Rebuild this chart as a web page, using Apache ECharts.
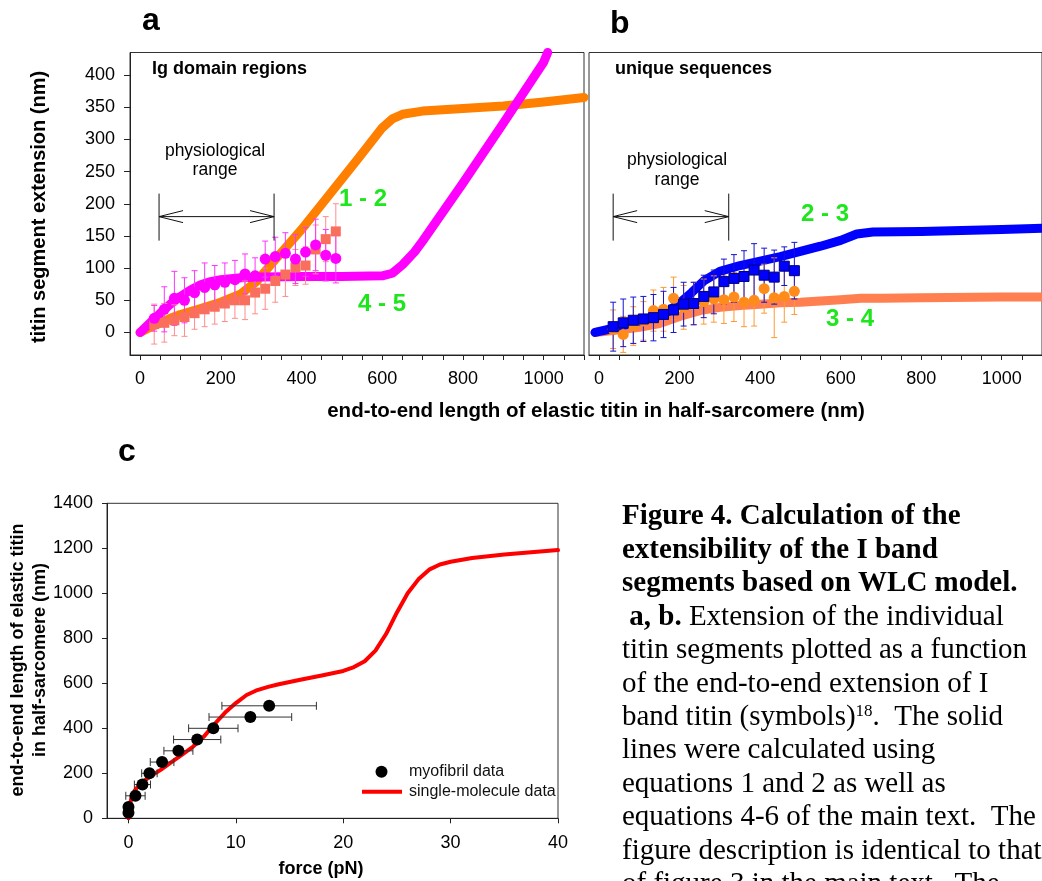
<!DOCTYPE html>
<html><head><meta charset="utf-8">
<script src="https://cdn.jsdelivr.net/npm/echarts@6/dist/echarts.min.js"></script>
<style>html,body{margin:0;padding:0;background:#fff}#c{width:1042px;height:881px}</style>
</head><body><div id="c"></div>
<script>
// ---------- data ----------
// measured points (panels a and b share the same end-to-end lengths, nm)
const measX = [35, 60, 85, 110, 135, 160, 185, 210, 235, 260, 285, 310, 335, 360, 385, 410, 435, 460, 485];
// panel a: Ig domain regions
const ig45Y   = [22, 36, 53, 50, 62, 70, 74, 78, 82, 91, 88, 114, 118, 123, 114, 125, 136, 120, 115];
const ig45Err = [20, 35, 42, 35, 34, 38, 30, 30, 30, 31, 28, 28, 30, 32, 38, 38, 40, 40, 38];
const ig12Y   = [13, 15, 19, 24, 30, 36, 40, 45, 50, 50, 62, 68, 80, 90, 101, 104, 129, 145, 157];
const ig12Err = [31, 30, 24, 30, 25, 27, 27, 28, 28, 30, 33, 32, 33, 34, 28, 29, 38, 35, 43];
// panel a model curves
const curve12X = [0, 25, 50, 75, 100, 150, 200, 250, 290, 300, 350, 400, 460, 540, 600, 625, 650, 700, 800, 900, 1000, 1100];
const curve12Y = [0, 8, 15, 22, 28, 37, 47, 60, 80, 88, 124, 160, 207, 270, 318, 332, 339, 344, 348, 352, 358, 365];
const curve45X = [0, 25, 50, 75, 100, 125, 150, 175, 200, 250, 300, 400, 500, 600, 625, 650, 680, 700, 800, 900, 1000, 1010];
const curve45Y = [0, 15, 30, 44, 56, 66, 74, 79, 82, 85, 86, 87, 87, 88, 92, 105, 125, 142, 232, 325, 420, 435];
// panel b: unique sequences
const u23Y   = [9, 15, 19, 21, 23, 28, 35, 44, 45, 56, 63, 79, 84, 87, 97, 89, 86, 103, 96];
const u23Err = [38, 37, 36, 35, 36, 36, 35, 34, 33, 33, 34, 35, 37, 40, 41, 42, 42, 30, 44];
const u34Y   = [5, -3, 10, 18, 34, 36, 53, 39, 45, 48, 52, 51, 55, 47, 50, 68, 54, 56, 64];
const u34Err = [30, 28, 30, 30, 32, 34, 33, 34, 33, 35, 36, 37, 38, 38, 40, 38, 62, 40, 36];
const curve23X = [-10, 25, 50, 100, 140, 170, 200, 230, 260, 300, 350, 400, 450, 500, 550, 600, 640, 680, 800, 1000, 1100];
const curve23Y = [0, 5, 9, 18, 24, 32, 46, 62, 80, 95, 104, 111, 118, 126, 134, 143, 153, 156, 157, 160, 162];
const curve34X = [-10, 50, 100, 150, 200, 250, 300, 350, 400, 450, 500, 550, 600, 650, 700, 800, 1000, 1100];
const curve34Y = [0, 4, 8, 14, 25, 34, 39, 42, 44, 46, 47, 49, 51, 53, 53, 54, 55, 55];
// panel c
const myoForce = [0, 0, 0.65, 1.3, 1.95, 3.13, 4.65, 6.4, 7.9, 11.35, 13.1];
const myoLen   = [25, 50, 100, 150, 200, 250, 300, 350, 400, 450, 500];
const myoErr   = [0.1, 0.15, 0.9, 0.75, 0.72, 1.1, 1.35, 2.2, 2.3, 3.85, 4.4];
const smForce = [0, 0.05, 0.15, 0.3, 0.6, 1, 1.5, 2, 3, 4, 5, 6, 7, 8, 9, 10, 11, 12, 13, 14, 16, 18, 20, 21, 22, 23, 24, 25, 26, 27, 28, 29, 30, 32, 35, 40];
const smLen   = [0, 30, 65, 95, 125, 148, 168, 185, 215, 250, 283, 318, 362, 418, 470, 512, 548, 570, 584, 596, 616, 635, 655, 672, 698, 745, 820, 915, 1000, 1062, 1105, 1128, 1140, 1157, 1172, 1192];
// tick values
const abXTicks = [0,50,100,150,200,250,300,350,400,450,500,550,600,650,700,750,800,850,900,950,1000,1050,1100];
const abXLabels = [0, 200, 400, 600, 800, 1000];
const aYTicks = [0, 50, 100, 150, 200, 250, 300, 350, 400];
const cXTicks = [0, 10, 20, 30, 40];
// annotation: physiological range (nm) per panel
const physRangeA = [47, 332];
const physRangeB = [35, 322];

// ---------- helpers ----------
const SANS = "'Liberation Sans', Arial, sans-serif";
const SERIF = "'Liberation Serif', 'Times New Roman', serif";
const AX = '#222';
const plain = function (v) { return String(v); };

function xAxis(gi, min, max, ticks, labels, margin) {
  return {type: 'value', gridIndex: gi, min: min, max: max,
    axisLine: {show: true, onZero: false, lineStyle: {color: AX, width: 1}},
    axisTick: {show: true, inside: false, length: 5, customValues: ticks, lineStyle: {color: AX}},
    axisLabel: {customValues: labels, fontSize: 18, fontFamily: SANS, color: '#000', margin: margin, formatter: plain},
    splitLine: {show: false}};
}
function yAxis(gi, min, max, ticks, opts) {
  const o = {type: 'value', gridIndex: gi, min: min, max: max,
    axisLine: {show: true, onZero: false, lineStyle: {color: AX, width: 1}},
    axisTick: {show: true, inside: false, length: 6, lineStyle: {color: AX}},
    axisLabel: {fontSize: 18, fontFamily: SANS, color: '#000', margin: 15, formatter: plain},
    splitLine: {show: false}};
  if (ticks) { o.axisTick.customValues = ticks; o.axisLabel.customValues = ticks; }
  return Object.assign(o, opts || {});
}
function zip(xs, ys) { return xs.map((x, i) => [x, ys[i]]); }
function curve(ai, xs, ys, color, w) {
  return {type: 'line', xAxisIndex: ai, yAxisIndex: ai, data: zip(xs, ys), showSymbol: false, symbol: 'none',
    lineStyle: {color: color, width: w, cap: 'round', join: 'round'}, z: 2, silent: true, clip: true};
}
function vErr(ai, xs, ys, es, color) {
  return {type: 'custom', xAxisIndex: ai, yAxisIndex: ai, z: 3, silent: true, clip: true,
    data: xs.map((x, i) => [x, ys[i], es[i]]),
    renderItem: function (p, api) {
      const x = api.value(0), y = api.value(1), e = api.value(2);
      const t = api.coord([x, y + e]), b = api.coord([x, y - e]);
      const w = 3, st = {stroke: color, lineWidth: 1};
      return {type: 'group', children: [
        {type: 'line', shape: {x1: t[0], y1: t[1], x2: b[0], y2: b[1]}, style: st},
        {type: 'line', shape: {x1: t[0] - w, y1: t[1], x2: t[0] + w, y2: t[1]}, style: st},
        {type: 'line', shape: {x1: b[0] - w, y1: b[1], x2: b[0] + w, y2: b[1]}, style: st}]};
    }};
}
function hErr(ai, xs, ys, es, color) {
  return {type: 'custom', xAxisIndex: ai, yAxisIndex: ai, z: 3, silent: true, clip: false,
    data: xs.map((x, i) => [x, ys[i], es[i]]),
    renderItem: function (p, api) {
      const x = api.value(0), y = api.value(1), e = api.value(2);
      const l = api.coord([x - e, y]), r = api.coord([x + e, y]);
      const h = 4, st = {stroke: color, lineWidth: 1};
      return {type: 'group', children: [
        {type: 'line', shape: {x1: l[0], y1: l[1], x2: r[0], y2: r[1]}, style: st},
        {type: 'line', shape: {x1: l[0], y1: l[1] - h, x2: l[0], y2: l[1] + h}, style: st},
        {type: 'line', shape: {x1: r[0], y1: r[1] - h, x2: r[0], y2: r[1] + h}, style: st}]};
    }};
}
function pts(ai, xs, ys, symbol, size, color, border) {
  return {type: 'scatter', xAxisIndex: ai, yAxisIndex: ai, data: zip(xs, ys), symbol: symbol, symbolSize: size,
    itemStyle: {color: color, borderColor: border || color, borderWidth: border ? 1 : 0, opacity: 1}, z: 4, silent: true};
}

const chart = echarts.init(document.getElementById('c'), null, {renderer: 'canvas'});
const gridStyle = {show: true, borderColor: '#333', borderWidth: 1, backgroundColor: 'transparent', containLabel: false};
chart.setOption({
  animation: false,
  backgroundColor: '#fff',
  grid: [
    Object.assign({left: 130, top: 52.5, width: 454, height: 302.5}, gridStyle),
    Object.assign({left: 589, top: 52.5, width: 455, height: 302.5}, gridStyle),
    Object.assign({left: 107, top: 503.3, width: 451, height: 315}, gridStyle)
  ],
  xAxis: [
    xAxis(0, -25, 1100, abXTicks, abXLabels, 15.5),
    xAxis(1, -25, 1100, abXTicks, abXLabels, 15.5),
    xAxis(2, -2, 40, cXTicks, cXTicks, 16)
  ],
  yAxis: [
    yAxis(0, -35, 435, aYTicks),
    yAxis(1, -35, 435, null, {axisLine: {show: false}, axisTick: {show: false}, axisLabel: {show: false}}),
    yAxis(2, 0, 1400, null, {interval: 200, axisTick: {show: true, length: 5, lineStyle: {color: AX}},
      axisLabel: {fontSize: 18, fontFamily: SANS, color: '#000', margin: 14, formatter: plain}})
  ],
  series: [
    // panel a
    vErr(0, measX, ig12Y, ig12Err, '#ff8c8c'),
    vErr(0, measX, ig45Y, ig45Err, '#ff33ff'),
    pts(0, measX, ig12Y, 'rect', 10, '#fa6e5e'),
    pts(0, measX, ig45Y, 'circle', 11, '#ff00ff'),
    curve(0, curve12X, curve12Y, '#ff8000', 9),
    curve(0, curve45X, curve45Y, '#ff00ff', 9),
    // panel b
    vErr(1, measX, u34Y, u34Err, '#ff9933'),
    vErr(1, measX, u23Y, u23Err, '#1414d2'),
    pts(1, measX, u34Y, 'circle', 11, '#ff8c1a'),
    pts(1, measX, u23Y, 'rect', 10, '#0000ff', '#00007a'),
    curve(1, curve34X, curve34Y, '#ff7f50', 9),
    curve(1, curve23X, curve23Y, '#0000ff', 9),
    // panel c
    curve(2, smForce, smLen, '#ff0000', 4),
    hErr(2, myoForce, myoLen, myoErr, '#333'),
    pts(2, myoForce, myoLen, 'circle', 12, '#000')
  ]
});

// ---------- annotations / text ----------
const g = [];
function txt(x, y, text, size, weight, opts) {
  g.push(Object.assign({type: 'text', x: x, y: y, z: 100, silent: true,
    style: Object.assign({text: text, fontSize: size, fontWeight: weight || 'normal', fontFamily: SANS, fill: '#000',
      align: 'left', verticalAlign: 'middle'}, (opts && opts.style) || {})},
    (opts && opts.el) || {}));
}
function seg(x1, y1, x2, y2, color, w) {
  g.push({type: 'line', z: 100, silent: true, shape: {x1: x1, y1: y1, x2: x2, y2: y2}, style: {stroke: color || '#111', lineWidth: w || 1}});
}
function rangeArrow(ai, range) {
  const p1 = chart.convertToPixel({xAxisIndex: ai, yAxisIndex: ai}, [range[0], 180]);
  const p2 = chart.convertToPixel({xAxisIndex: ai, yAxisIndex: ai}, [range[1], 180]);
  const y = p1[1];
  seg(p1[0], y - 23, p1[0], y + 24); seg(p2[0], y - 23, p2[0], y + 24);
  seg(p1[0], y, p2[0], y);
  seg(p1[0], y, p1[0] + 24, y - 6); seg(p1[0], y, p1[0] + 24, y + 6);
  seg(p2[0], y, p2[0] - 24, y - 6); seg(p2[0], y, p2[0] - 24, y + 6);
}
rangeArrow(0, physRangeA);
rangeArrow(1, physRangeB);

// panel letters
txt(142, 21, 'a', 32, 'bold');
txt(610, 24, 'b', 32, 'bold');
txt(118, 452, 'c', 32, 'bold');
// panel headers
txt(152, 69, 'Ig domain regions', 18, 'bold');
txt(615, 69, 'unique sequences', 18, 'bold');
// physiological range text
txt(215, 151, 'physiological', 17.5, 'normal', {style: {align: 'center'}});
txt(215, 170, 'range', 17.5, 'normal', {style: {align: 'center'}});
txt(677, 160, 'physiological', 17.5, 'normal', {style: {align: 'center'}});
txt(677, 180, 'range', 17.5, 'normal', {style: {align: 'center'}});
// segment labels
const GREEN = '#1de61d';
txt(363, 199, '1 - 2', 24, 'bold', {style: {align: 'center', fill: GREEN}});
txt(382, 304, '4 - 5', 24, 'bold', {style: {align: 'center', fill: GREEN}});
txt(825, 214, '2 - 3', 24, 'bold', {style: {align: 'center', fill: GREEN}});
txt(850, 319, '3 - 4', 24, 'bold', {style: {align: 'center', fill: GREEN}});
// axis titles
txt(39, 207, 'titin segment extension (nm)', 20, 'bold', {style: {align: 'center'}, el: {rotation: Math.PI / 2}});
txt(596, 411, 'end-to-end length of elastic titin in half-sarcomere (nm)', 20.5, 'bold', {style: {align: 'center'}});
txt(29.5, 660, 'end-to-end length of elastic titin\nin half-sarcomere (nm)', 18, 'bold', {style: {align: 'center', lineHeight: 22}, el: {rotation: Math.PI / 2}});
txt(321, 869, 'force (pN)', 18, 'bold', {style: {align: 'center'}});
// legend panel c
g.push({type: 'circle', z: 100, silent: true, shape: {cx: 381.5, cy: 771.7, r: 6}, style: {fill: '#000'}});
seg(362, 791.7, 402, 791.7, '#ff0000', 4);
txt(409, 771.7, 'myofibril data', 16, 'normal', {style: {fill: '#111'}});
txt(409, 792, 'single-molecule data', 16, 'normal', {style: {fill: '#111'}});
// caption
const capLines = [
  '{b|Figure 4. Calculation of the}',
  '{b|extensibility of the I band}',
  '{b|segments based on WLC model.}',
  ' {b|a, b.} Extension of the individual',
  'titin segments plotted as a function',
  'of the end-to-end extension of I',
  'band titin (symbols){s|18}.  The solid',
  'lines were calculated using',
  'equations 1 and 2 as well as',
  'equations 4-6 of the main text.  The',
  'figure description is identical to that',
  'of figure 3 in the main text.  The'
];
capLines.forEach(function (line, i) {
  g.push({type: 'text', x: 622, y: 516.7 + i * 33.45, z: 100, silent: true,
    style: {text: line, fontSize: 29, fontFamily: SERIF, fill: '#000', align: 'left', verticalAlign: 'middle',
      rich: {
        b: {fontSize: 29, fontFamily: SERIF, fontWeight: 'bold', fill: '#000'},
        s: {fontSize: 17, fontFamily: SERIF, fill: '#000', verticalAlign: 'top', padding: [0, 0, 10, 0]}
      }}});
});
chart.setOption({graphic: g});
</script></body></html>
